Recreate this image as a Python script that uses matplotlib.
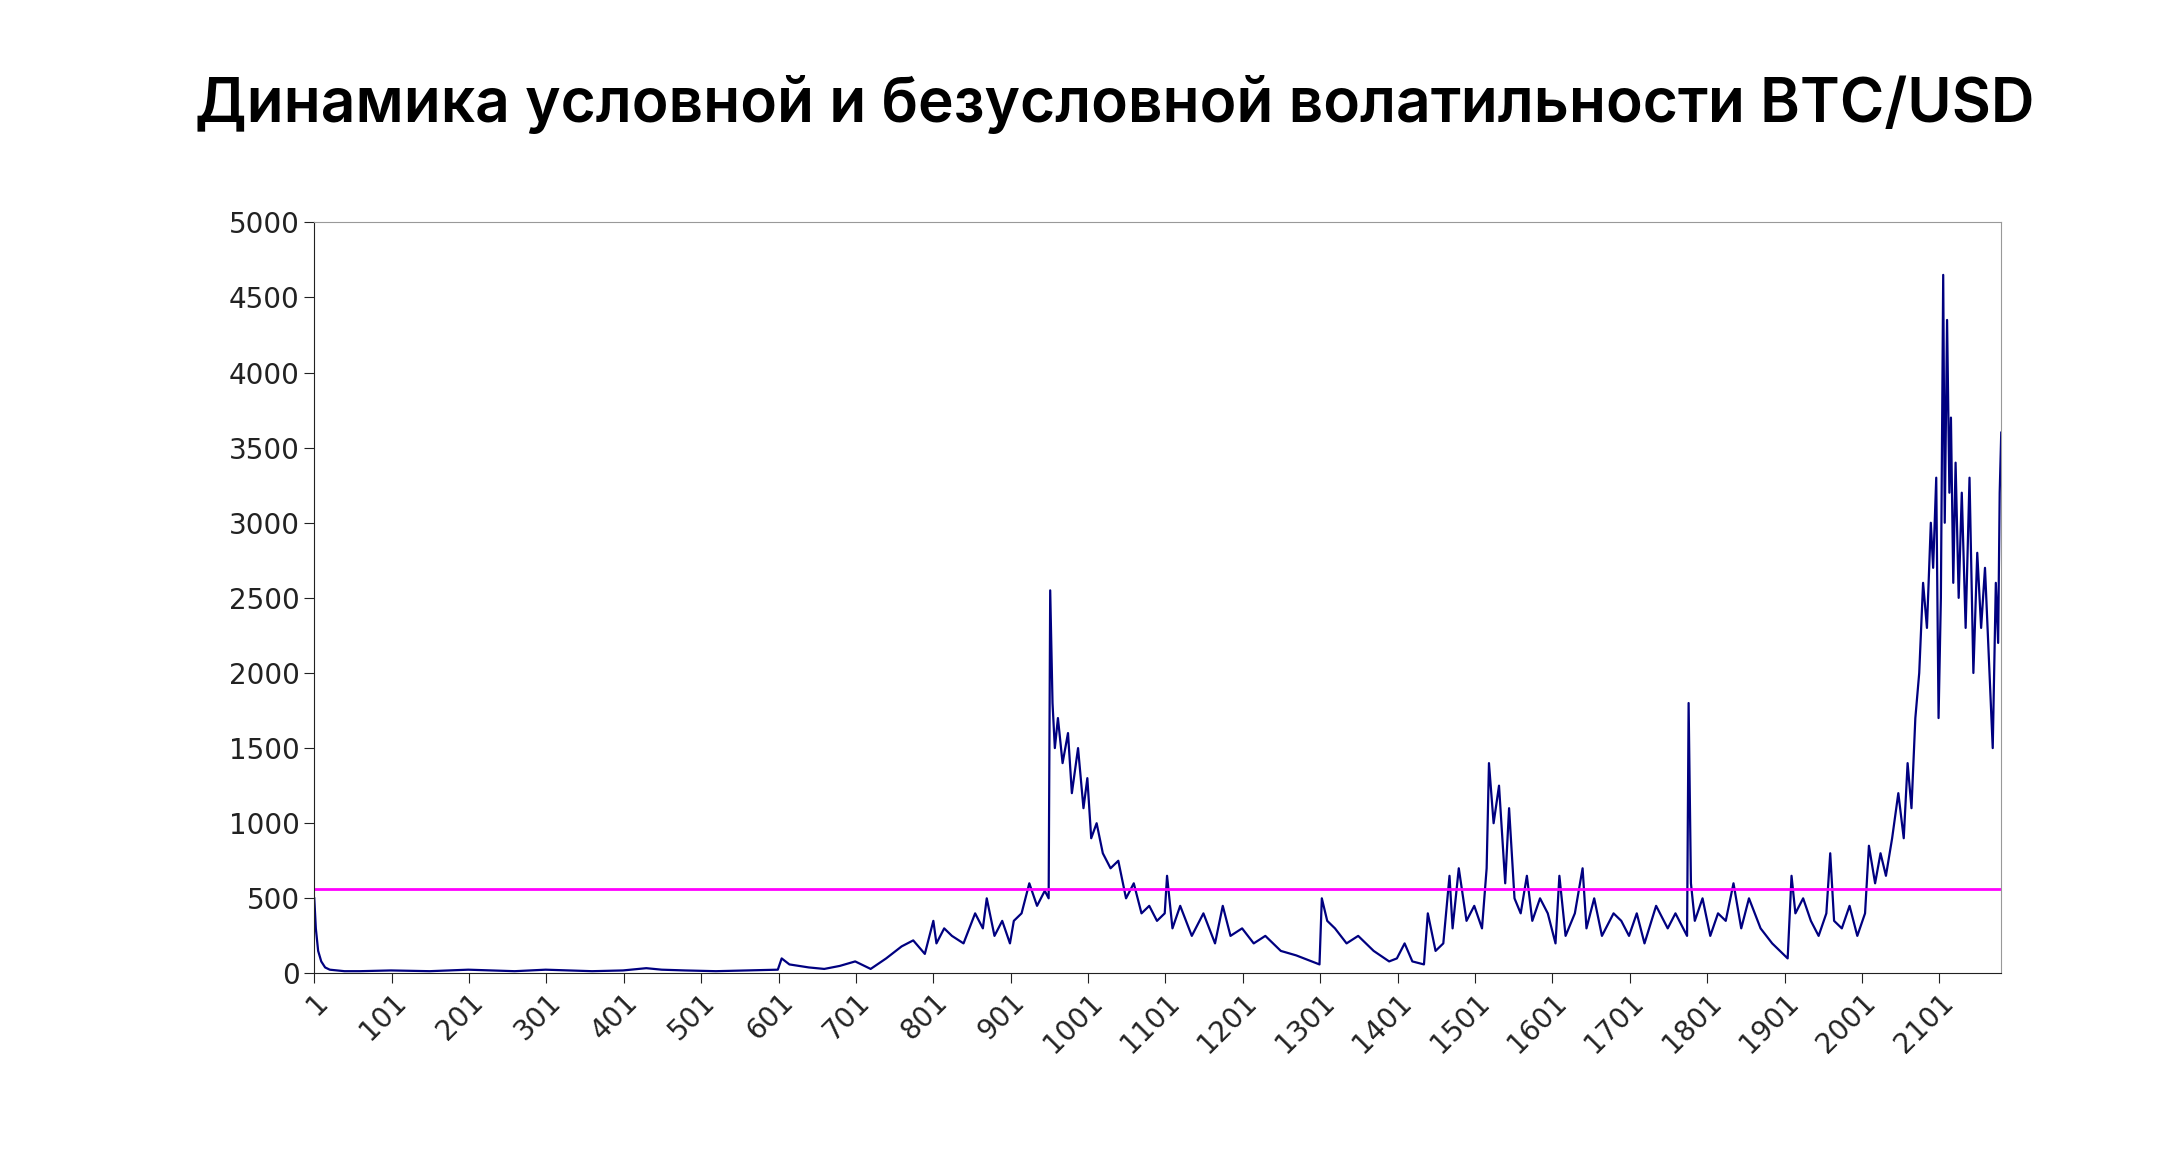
import matplotlib
matplotlib.use("Agg")
from matplotlib import pyplot as plt

idx = [1, 3, 6, 10, 15, 21, 40, 60, 100, 150, 200, 230, 260, 300, 330, 360, 400, 430,
       450, 480, 520, 560, 600, 605, 615, 640, 660, 680, 700, 720, 740, 760, 775, 790,
       801, 805, 815, 825, 840, 855, 865, 870, 880, 890, 900, 905, 915, 925, 935, 945,
       950, 952, 955, 958, 962, 968, 975, 980, 988, 995, 1000, 1005, 1012, 1020, 1030,
       1040, 1050, 1060, 1070, 1080, 1090, 1100, 1103, 1110, 1120, 1135, 1150, 1165,
       1175, 1185, 1200, 1215, 1230, 1250, 1270, 1290, 1300, 1303, 1310, 1320, 1335,
       1350, 1370, 1390, 1400, 1410, 1420, 1435, 1440, 1450, 1460, 1468, 1472, 1480,
       1490, 1500, 1510, 1516, 1519, 1525, 1532, 1540, 1545, 1552, 1560, 1568, 1575,
       1585, 1595, 1605, 1610, 1618, 1630, 1640, 1645, 1655, 1665, 1680, 1690, 1700,
       1710, 1720, 1735, 1750, 1760, 1770, 1775, 1777, 1780, 1785, 1795, 1805, 1815,
       1825, 1835, 1845, 1855, 1870, 1885, 1895, 1905, 1910, 1915, 1925, 1935, 1945,
       1955, 1960, 1965, 1975, 1985, 1995, 2005, 2010, 2018, 2025, 2032, 2040, 2048,
       2055, 2060, 2065, 2070, 2075, 2080, 2085, 2090, 2093, 2097, 2100, 2103, 2106,
       2108, 2111, 2114, 2116, 2119, 2122, 2126, 2130, 2135, 2140, 2145, 2150, 2155,
       2160, 2165, 2170, 2174, 2177, 2179, 2181]
vol = [500, 300, 150, 80, 40, 25, 15, 15, 20, 15, 25, 20, 15, 25, 20, 15, 20, 35,
       25, 20, 15, 20, 25, 100, 60, 40, 30, 50, 80, 30, 100, 180, 220, 130,
       350, 200, 300, 250, 200, 400, 300, 500, 250, 350, 200, 350, 400, 600, 450, 550,
       500, 2550, 1800, 1500, 1700, 1400, 1600, 1200, 1500, 1100, 1300, 900, 1000, 800, 700,
       750, 500, 600, 400, 450, 350, 400, 650, 300, 450, 250, 400, 200,
       450, 250, 300, 200, 250, 150, 120, 80, 60, 500, 350, 300, 200,
       250, 150, 80, 100, 200, 80, 60, 400, 150, 200, 650, 300, 700,
       350, 450, 300, 700, 1400, 1000, 1250, 600, 1100, 500, 400, 650, 350,
       500, 400, 200, 650, 250, 400, 700, 300, 500, 250, 400, 350, 250,
       400, 200, 450, 300, 400, 300, 250, 1800, 600, 350, 500, 250, 400,
       350, 600, 300, 500, 300, 200, 150, 100, 650, 400, 500, 350, 250,
       400, 800, 350, 300, 450, 250, 400, 850, 600, 800, 650, 900, 1200,
       900, 1400, 1100, 1700, 2000, 2600, 2300, 3000, 2700, 3300, 1700, 2500, 4650,
       3000, 4350, 3200, 3700, 2600, 3400, 2500, 3200, 2300, 3300, 2000, 2800, 2300,
       2700, 2100, 1500, 2600, 2200, 3200, 3600]
uncond = 560

xticks = list(range(1, 2102, 100))

fig = plt.figure(figsize=(21.6, 11.7), dpi=100)
fig.text(0.516, 0.91, "Динамика условной и безусловной волатильности BTC/USD",
         ha="center", va="center", fontsize=43.5, fontweight="semibold",
         family=["Inter", "DejaVu Sans"])

ax = fig.add_axes([0.1455, 0.168, 0.781, 0.642])
ax.plot(idx, vol, color="#000080", lw=1.6)
ax.axhline(uncond, color="#ff00ff", lw=2)
ax.set_xlim(1, 2181)
ax.set_ylim(0, 5000)
ax.set_yticks(range(0, 5001, 500))
ax.set_xticks(xticks)
ax.set_xticklabels([str(t) for t in xticks], rotation=45, ha="right",
                   rotation_mode="anchor")
ax.tick_params(labelsize=20, colors="#222222", length=7, direction="out")
for s in ax.spines.values():
    s.set_color("#999999")
ax.spines["left"].set_color("#222222")
ax.spines["bottom"].set_color("#222222")

fig.savefig("out.png", dpi=100)
